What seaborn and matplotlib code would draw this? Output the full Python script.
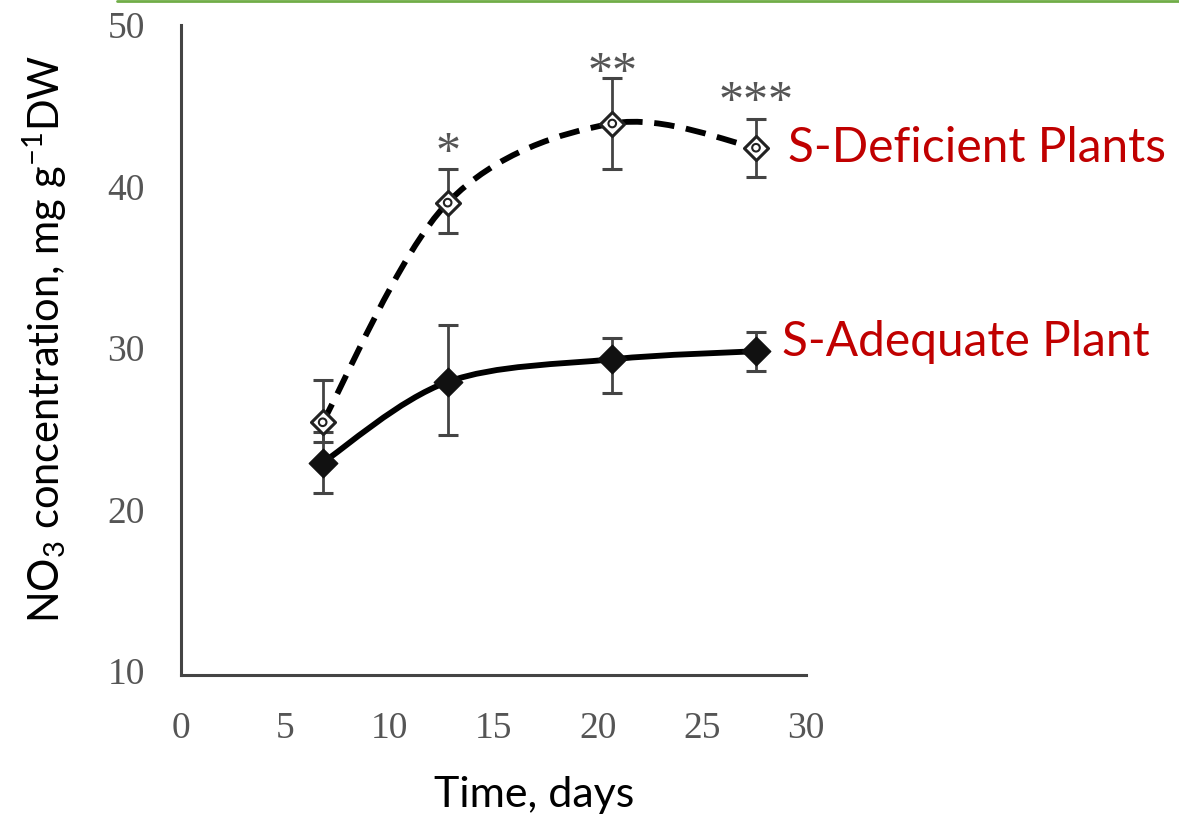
import numpy as np
import pandas as pd
import matplotlib
matplotlib.use("Agg")
import matplotlib.pyplot as plt
from matplotlib.path import Path
from matplotlib.patches import PathPatch
from matplotlib.lines import Line2D
import seaborn as sns

# --- data -----------------------------------------------------------------
days = [6.8, 12.8, 20.7, 27.6]

deficient_mean = [25.4, 39.0, 43.9, 42.4]
deficient_err_lo = [1.2, 1.9, 2.8, 1.8]
deficient_err_hi = [2.6, 2.1, 2.8, 1.8]

adequate_mean = [22.9, 27.9, 29.3, 29.8]
adequate_err_lo = [1.9, 3.3, 2.1, 1.2]
adequate_err_hi = [1.9, 3.5, 1.3, 1.2]

significance = ["", "*", "**", "***"]
signif_y = [None, 42.0, 47.0, 45.2]

x_ticks = [0, 5, 10, 15, 20, 25, 30]
y_ticks = [10, 20, 30, 40, 50]

# --- style ----------------------------------------------------------------
sns.set_style("white")
plt.rcParams["font.family"] = ["Lato", "DejaVu Sans"]
plt.rcParams["mathtext.fontset"] = "custom"
plt.rcParams["mathtext.rm"] = "Lato"
plt.rcParams["mathtext.it"] = "Lato"

axis_grey = "#444444"
tick_grey = "#555555"
red = "#C00000"

fig = plt.figure(figsize=(11.79, 8.21), dpi=100)
ax = fig.add_axes([181 / 1179, (821 - 675) / 821, 625 / 1179, 650 / 821])


def smooth_path(xs, ys):
    """Catmull-Rom style cubic Bezier path through the given points."""
    pts = np.column_stack([xs, ys]).astype(float)
    ext = np.vstack([pts[0], pts, pts[-1]])
    verts = [tuple(pts[0])]
    codes = [Path.MOVETO]
    for i in range(1, len(ext) - 2):
        p0, p1, p2, p3 = ext[i - 1], ext[i], ext[i + 1], ext[i + 2]
        c1 = p1 + (p2 - p0) / 6.0
        c2 = p2 - (p3 - p1) / 6.0
        verts += [tuple(c1), tuple(c2), tuple(p2)]
        codes += [Path.CURVE4] * 3
    return Path(verts, codes)


# error bars
ax.errorbar(days, deficient_mean, yerr=[deficient_err_lo, deficient_err_hi],
            fmt="none", ecolor=axis_grey, elinewidth=2.0, capsize=7.5,
            capthick=2.2, zorder=2)
ax.errorbar(days, adequate_mean, yerr=[adequate_err_lo, adequate_err_hi],
            fmt="none", ecolor=axis_grey, elinewidth=2.0, capsize=7.5,
            capthick=2.2, zorder=2)

# smoothed connecting curves
ax.add_patch(PathPatch(smooth_path(days, deficient_mean), fill=False,
                       edgecolor="black", lw=4.2, linestyle=(0, (3.5, 2.0)),
                       capstyle="butt", zorder=3))
ax.add_patch(PathPatch(smooth_path(days, adequate_mean), fill=False,
                       edgecolor="black", lw=4.2, zorder=3))

# markers
df_def = pd.DataFrame({"day": days, "value": deficient_mean})
df_ade = pd.DataFrame({"day": days, "value": adequate_mean})
sns.scatterplot(data=df_def, x="day", y="value", marker="D", s=150,
                facecolor="white", edgecolor="#222222", linewidth=2.2,
                zorder=4, ax=ax)
sns.scatterplot(data=df_def, x="day", y="value", marker="o", s=30,
                facecolor="none", edgecolor="#222222", linewidth=1.5,
                zorder=5, ax=ax)
sns.scatterplot(data=df_ade, x="day", y="value", marker="D", s=210,
                color="#111111", edgecolor="#111111", linewidth=1,
                zorder=4, ax=ax)

# significance stars
for d, s, y in zip(days, significance, signif_y):
    if s:
        ax.text(d, y, s, ha="center", va="center", fontsize=36,
                family="Liberation Serif", color=tick_grey)

# axes
ax.set_xlim(0, 30)
ax.set_ylim(9.75, 50)
ax.set_xticks(x_ticks)
ax.set_yticks(y_ticks)
ax.set_xticklabels([str(v) for v in x_ticks])
ax.set_yticklabels([str(v) for v in y_ticks])
for lab in ax.get_xticklabels() + ax.get_yticklabels():
    lab.set_family("Liberation Serif")
    lab.set_fontsize(27)
    lab.set_color(tick_grey)
ax.tick_params(axis="both", direction="in", length=8, width=2,
               color=axis_grey)
ax.tick_params(axis="y", pad=26)
ax.tick_params(axis="x", pad=26)
for side in ["top", "right"]:
    ax.spines[side].set_visible(False)
for side in ["left", "bottom"]:
    ax.spines[side].set_color(axis_grey)
    ax.spines[side].set_linewidth(2.2)
ax.spines["left"].set_bounds(9.75, 50)

ax.set_xlabel("Time, days", fontsize=31, color="black")
ax.xaxis.label.set_va("center")
ax.xaxis.set_label_coords((534 - 181) / 625, (675 - 795) / 650)
ax.set_ylabel("NO$_3$ concentration, mg g$^{-1}$DW", fontsize=30,
              color="black")
ax.yaxis.label.set_va("center")
ax.yaxis.set_label_coords((45 - 181) / 625, (675 - 339) / 650)

# series labels
ax.text(788 / 1179, 1 - 148 / 821, "S-Deficient Plants", transform=fig.transFigure,
        ha="left", va="center", fontsize=34.5, color=red, clip_on=False)
ax.text(782 / 1179, 1 - 342 / 821, "S-Adequate Plant", transform=fig.transFigure,
        ha="left", va="center", fontsize=34.5, color=red, clip_on=False)

# thin green rule along the top edge
fig.add_artist(Line2D([117 / 1179, 1.0], [0.999, 0.999],
                      transform=fig.transFigure, color="#70AD47", lw=2))

fig.savefig("out.png", dpi=100)
